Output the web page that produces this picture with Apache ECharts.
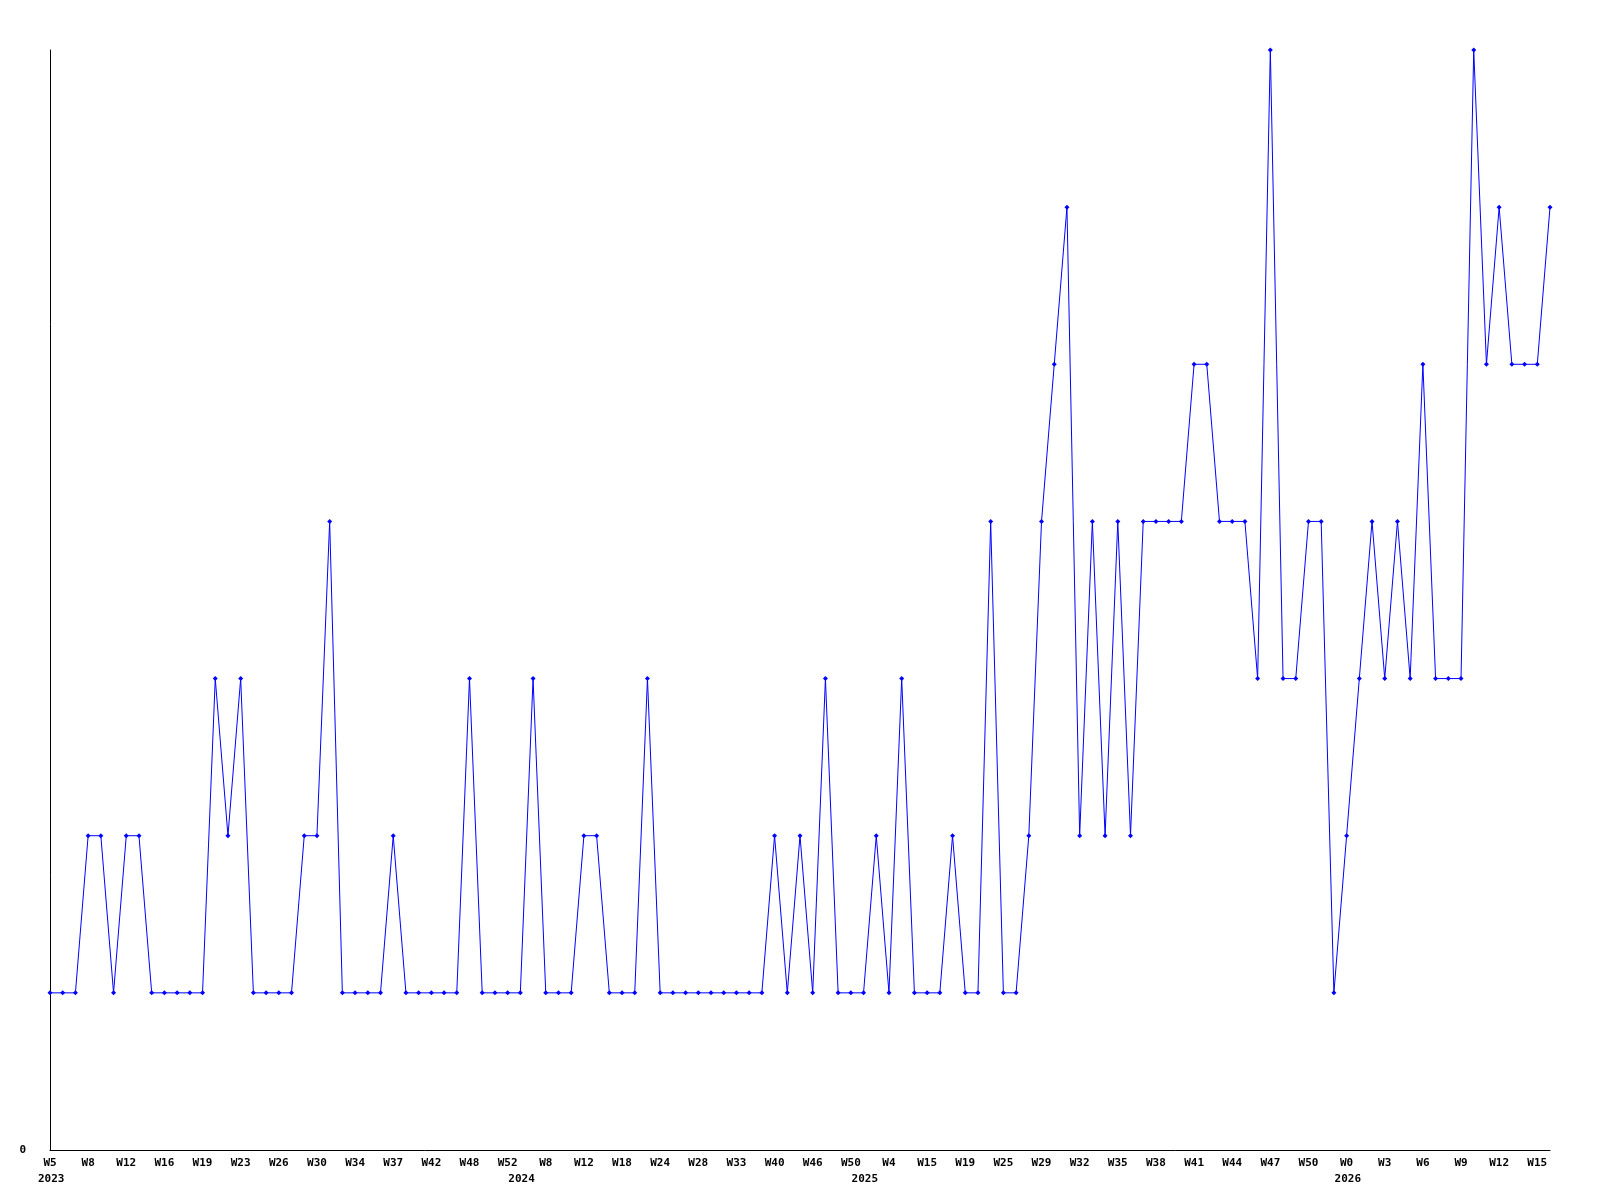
<!DOCTYPE html>
<html>
<head>
<meta charset="utf-8">
<script src="https://cdn.jsdelivr.net/npm/echarts@6/dist/echarts.min.js"></script>
<style>
html,body{margin:0;padding:0;background:#fff;}
#chart{width:1600px;height:1200px;}
</style>
</head>
<body>
<div id="chart"></div>
<script>
// Week categories (every 3rd one is labelled on the axis)
const weeks = [
  'W5','W6','W7','W8','W9','W10','W12','W13','W14','W16','W17','W18','W19','W20','W22',
  'W23','W24','W25','W26','W28','W29','W30','W31','W33','W34','W35','W36','W37','W39','W40',
  'W42','W44','W46','W48','W49','W51','W52',
  'W1','W4','W8','W9','W11','W12','W14','W16','W18','W20','W22','W24','W25','W27','W28',
  'W30','W31','W33','W35','W37','W40','W42','W44','W46','W47','W49','W50',
  'W1','W2','W4','W8','W12','W15','W16','W18','W19','W21','W23','W25','W26','W28','W29',
  'W30','W31','W32','W33','W34','W35','W36','W37','W38','W39','W40','W41','W42','W43','W44',
  'W45','W46','W47','W48','W49','W50','W51','W52',
  'W0','W1','W2','W3','W4','W5','W6','W7','W8','W9','W10','W11','W12','W13','W14','W15','W16'
];
// Index of the first week of each year, and the year names
const yearStarts = [0, 37, 64, 102];
const yearNames = ['2023', '2024', '2025', '2026'];

const values = [
  1,1,1,2,2,1,2,2,1,1,1,1,1,3,2,3,1,1,1,1,2,2,4,1,1,1,1,2,1,1,
  1,1,1,3,1,1,1,1,3,1,1,1,2,2,1,1,1,3,1,1,1,1,1,1,1,1,1,2,1,2,
  1,3,1,1,1,2,1,3,1,1,1,2,1,1,4,1,1,2,4,5,6,2,4,2,4,2,4,4,4,4,
  5,5,4,4,4,3,7,3,3,4,4,1,2,3,4,3,4,3,5,3,3,3,7,5,6,5,5,5,6
];

const FONT = 'DejaVu Sans Mono';
const chart = echarts.init(document.getElementById('chart'), null, {renderer: 'canvas'});
chart.setOption({
  animation: false,
  backgroundColor: '#ffffff',
  grid: {left: 50, right: 50, top: 50, bottom: 50, containLabel: false},
  xAxis: [
    {
      type: 'category',
      data: weeks,
      boundaryGap: false,
      position: 'bottom',
      axisLine: {show: true, lineStyle: {color: '#000', width: 1}},
      axisTick: {show: false},
      splitLine: {show: false},
      axisLabel: {
        interval: 2,
        margin: 8,
        fontFamily: FONT,
        fontWeight: 'bold',
        fontSize: 11,
        color: '#000'
      }
    },
    {
      type: 'category',
      data: weeks,
      boundaryGap: false,
      position: 'bottom',
      offset: 16,
      axisLine: {show: false},
      axisTick: {show: false},
      splitLine: {show: false},
      axisLabel: {
        interval: function (idx) { return yearStarts.indexOf(idx) >= 0; },
        formatter: function (val, idx) {
          const k = yearStarts.indexOf(idx);
          return k >= 0 ? '{y|' + yearNames[k] + '}' : '';
        },
        margin: 8,
        align: 'left',
        rich: {y: {fontFamily: FONT, fontWeight: 'bold', fontSize: 11, color: '#000', padding: [0, 0, 0, -12]}},
        fontFamily: FONT,
        fontWeight: 'bold',
        fontSize: 11,
        color: '#000'
      }
    }
  ],
  yAxis: {
    type: 'value',
    min: 0,
    max: 7,
    interval: 1,
    axisLine: {show: true, lineStyle: {color: '#000', width: 1}},
    axisTick: {show: false},
    splitLine: {show: false},
    axisLabel: {
      formatter: function (v) { return v === 0 ? '0' : ''; },
      margin: 24,
      fontFamily: FONT,
      fontWeight: 'bold',
      fontSize: 11,
      color: '#000'
    }
  },
  series: [{
    type: 'line',
    data: values,
    xAxisIndex: 0,
    symbol: 'diamond',
    symbolSize: 5,
    showAllSymbol: true,
    lineStyle: {color: '#0000ff', width: 1},
    itemStyle: {color: '#0000ff'}
  }]
});
</script>
</body>
</html>
